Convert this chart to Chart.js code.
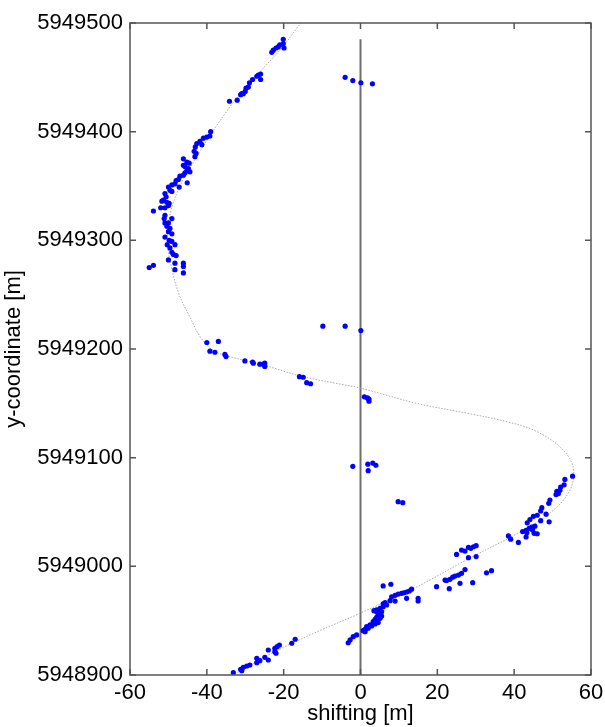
<!DOCTYPE html>
<html>
<head>
<meta charset="utf-8">
<script src="https://cdn.jsdelivr.net/npm/chart.js@4"></script>
<style>
  html, body { margin: 0; padding: 0; background: #fff; }
  #wrap { width: 605px; height: 727px; }
</style>
</head>
<body>
<div id="wrap"><canvas id="chart" width="605" height="727"></canvas></div>
<script>
// axis ticks
const xTicks = [-60, -40, -20, 0, 20, 40, 60];
const yTicks = [5948900, 5949000, 5949100, 5949200, 5949300, 5949400, 5949500];

const northBranch = [
  [-20.1, 5949485], [-20.1, 5949481], [-21.0, 5949480], [-19.9, 5949477], [-21.4, 5949478],
  [-22.0, 5949477], [-22.7, 5949475], [-23.1, 5949473], [-26.0, 5949453], [-26.6, 5949452],
  [-27.0, 5949451], [-26.0, 5949448], [-28.1, 5949448], [-28.9, 5949445], [-29.2, 5949441],
  [-29.8, 5949440], [-30.0, 5949437], [-30.5, 5949435], [-30.9, 5949435], [-31.2, 5949434],
  [-34.1, 5949428], [-32.1, 5949429], [-39.0, 5949400], [-39.2, 5949396], [-40.0, 5949395],
  [-40.9, 5949394], [-41.8, 5949391], [-42.6, 5949389], [-43.0, 5949386], [-41.3, 5949388]
];

const westBend = [
  [-43.3, 5949382], [-42.8, 5949380], [-43.1, 5949377], [-46.1, 5949375], [-45.2, 5949372],
  [-44.6, 5949371], [-46.1, 5949369], [-45.7, 5949368], [-44.8, 5949366], [-45.2, 5949364],
  [-44.4, 5949363], [-45.7, 5949362], [-46.1, 5949360], [-47.0, 5949359], [-47.4, 5949356],
  [-48.0, 5949355], [-48.3, 5949352], [-45.1, 5949353], [-49.1, 5949351], [-50.0, 5949349],
  [-47.2, 5949349], [-49.6, 5949346], [-49.1, 5949345], [-50.9, 5949343], [-50.6, 5949340],
  [-51.3, 5949337], [-51.7, 5949336], [-50.4, 5949335], [-49.8, 5949334], [-50.0, 5949332],
  [-52.0, 5949330], [-50.9, 5949330], [-53.9, 5949327], [-50.9, 5949323], [-51.1, 5949320],
  [-49.1, 5949320], [-50.9, 5949316], [-50.0, 5949316], [-50.4, 5949313], [-49.6, 5949311],
  [-50.0, 5949308], [-49.1, 5949306], [-50.9, 5949303], [-49.8, 5949300], [-49.1, 5949299],
  [-50.3, 5949296], [-48.3, 5949296], [-49.6, 5949293], [-49.1, 5949289], [-48.7, 5949287],
  [-48.0, 5949286], [-50.0, 5949282], [-48.3, 5949279], [-46.1, 5949279], [-46.1, 5949276],
  [-48.3, 5949273], [-46.1, 5949270], [-53.9, 5949277], [-55.0, 5949275]
];

const middleRun = [
  [-40.0, 5949206], [-37.0, 5949207], [-39.2, 5949198], [-37.9, 5949197], [-35.3, 5949195],
  [-35.0, 5949193], [-30.1, 5949189], [-28.1, 5949188], [-27.9, 5949187], [-26.2, 5949186],
  [-25.3, 5949186], [-24.9, 5949187], [-24.9, 5949184], [-15.9, 5949174.5], [-14.9, 5949174],
  [-14.0, 5949169], [-13.0, 5949168]
];

const nearAxis = [
  [-4.0, 5949450], [-2.0, 5949447], [0.1, 5949445], [3.1, 5949444],
  [-9.8, 5949221], [-4.0, 5949221], [0.1, 5949217],
  [1.0, 5949156], [1.8, 5949155], [2.2, 5949154], [2.2, 5949152],
  [-2.0, 5949092], [1.9, 5949094], [3.2, 5949095], [4.0, 5949093], [2.0, 5949088],
  [9.8, 5949059.5], [11.0, 5949058.6]
];

const eastBend = [
  [55.2, 5949083], [53.2, 5949080], [53.0, 5949075], [52.1, 5949073], [51.9, 5949070],
  [51.1, 5949069], [51.5, 5949067], [50.9, 5949066], [49.3, 5949061], [49.0, 5949058],
  [47.2, 5949054], [46.9, 5949051], [46.0, 5949047], [48.3, 5949048], [45.0, 5949046],
  [46.9, 5949042], [49.1, 5949041], [44.1, 5949043], [43.4, 5949040], [45.4, 5949037],
  [44.6, 5949036], [43.9, 5949035], [44.8, 5949033.5], [43.1, 5949033], [42.2, 5949032],
  [43.3, 5949031], [46.0, 5949030], [45.2, 5949030.4], [43.1, 5949027], [38.5, 5949028],
  [39.1, 5949025], [41.1, 5949022],
  [25.0, 5949011], [26.3, 5949015], [27.2, 5949014], [28.1, 5949017.5], [28.7, 5949016.6],
  [29.4, 5949018], [30.1, 5949019], [28.1, 5949008], [30.1, 5949009],
  [32.8, 5948994], [34.1, 5948996], [27.2, 5948997], [26.3, 5948993.6], [25.5, 5948992],
  [24.6, 5948991], [24.0, 5948990], [23.3, 5948988], [22.4, 5948987], [22.0, 5948987.4],
  [25.9, 5948984.4], [29.2, 5948985], [23.1, 5948979.4], [19.8, 5948981.3]
];

const southRun = [
  [5.9, 5948982], [7.9, 5948983.5], [13.3, 5948979], [12.7, 5948977.3], [12.0, 5948976.4],
  [11.3, 5948975.7], [10.7, 5948975.2], [9.8, 5948974.5], [9.0, 5948973.3], [8.1, 5948972],
  [12.0, 5948970.6], [9.0, 5948968], [7.7, 5948968.4], [6.4, 5948966.6], [5.9, 5948965.4],
  [15.0, 5948970.6], [15.0, 5948968.1],
  [6.8, 5948964.4], [5.9, 5948962.9], [5.1, 5948961.4], [4.2, 5948959.9], [5.5, 5948958.3],
  [5.1, 5948956.8], [4.6, 5948955.3], [5.5, 5948954.3], [4.2, 5948953.1], [5.1, 5948952.2],
  [3.8, 5948951.3], [4.2, 5948950], [3.3, 5948949.1], [4.6, 5948948.2], [3.8, 5948947],
  [2.5, 5948946.1], [2.9, 5948945.1], [1.6, 5948944.5], [2.0, 5948943], [1.2, 5948942.1],
  [0.7, 5948940.8], [1.2, 5948939.9], [-1.0, 5948936.9], [-1.9, 5948935.3], [-2.7, 5948932.3],
  [-3.2, 5948929.7], [4.2, 5948958.3], [3.5, 5948959.2],
  [-17.0, 5948932.9], [-17.9, 5948929.2], [-21.1, 5948927.6], [-21.7, 5948926.1], [-22.3, 5948924.6],
  [-24.0, 5948923], [-22.3, 5948921.5], [-22.0, 5948920], [-24.9, 5948916.3], [-24.0, 5948913.8],
  [-27.0, 5948915.4], [-26.2, 5948913.2], [-27.0, 5948911.3], [-28.8, 5948909.2], [-29.6, 5948908.3],
  [-30.5, 5948907.1], [-31.2, 5948905.3], [-30.9, 5948904], [-33.1, 5948902.1]
];

// smoothed trend (dotted)
const trendCurve = [
  [-11, 5949520], [-15.5, 5949500], [-21, 5949475], [-27.5, 5949450], [-33.5, 5949425],
  [-38.5, 5949400], [-43, 5949375], [-47, 5949350], [-49.5, 5949325], [-50.3, 5949300],
  [-49.2, 5949275], [-47.2, 5949250], [-44.5, 5949230], [-41.5, 5949210], [-38, 5949198],
  [-33, 5949192], [-25, 5949185], [-15.5, 5949175], [-5, 5949167.5], [0, 5949164],
  [14.6, 5949150], [27.6, 5949141], [37, 5949134], [45, 5949125.5], [51.9, 5949110],
  [55.3, 5949092], [54.5, 5949070], [49.3, 5949049], [40.7, 5949030], [27.6, 5949006],
  [14.6, 5948981], [0, 5948957], [-10.5, 5948941], [-22, 5948922], [-33.2, 5948900],
  [-36, 5948895]
];

// reference line at zero shifting
const zeroLine = [[0, 5949485], [0, 5948900]];

const toXY = arr => arr.map(p => ({ x: p[0], y: p[1] }));
const allPoints = [].concat(northBranch, westBend, middleRun, nearAxis, eastBend, southRun);

const FONT = { family: "'Liberation Sans', Arial, sans-serif", size: 22 };
const AXIS_COLOR = '#555';

// MATLAB style box with inward ticks
const boxPlugin = {
  id: 'boxTicks',
  afterDraw(chart) {
    const { ctx, chartArea: a, scales } = chart;
    const len = 6;
    ctx.save();
    ctx.strokeStyle = AXIS_COLOR;
    ctx.lineWidth = 1.5;
    ctx.strokeRect(a.left, a.top, a.right - a.left, a.bottom - a.top);
    ctx.beginPath();
    xTicks.forEach(v => {
      const px = scales.x.getPixelForValue(v);
      ctx.moveTo(px, a.bottom); ctx.lineTo(px, a.bottom - len);
      ctx.moveTo(px, a.top); ctx.lineTo(px, a.top + len);
    });
    yTicks.forEach(v => {
      const py = scales.y.getPixelForValue(v);
      ctx.moveTo(a.left, py); ctx.lineTo(a.left + len, py);
      ctx.moveTo(a.right, py); ctx.lineTo(a.right - len, py);
    });
    ctx.stroke();
    ctx.restore();
  }
};

new Chart(document.getElementById('chart'), {
  type: 'scatter',
  data: {
    datasets: [
      {
        label: 'points',
        data: toXY(allPoints),
        backgroundColor: '#0000ff',
        borderWidth: 0,
        pointRadius: 2.6,
        pointHoverRadius: 2.6
      },
      {
        label: 'trend',
        data: toXY(trendCurve),
        showLine: true,
        borderColor: '#a8a8a8',
        borderWidth: 1,
        borderDash: [1.5, 1.5],
        tension: 0.35,
        pointRadius: 0,
        fill: false
      },
      {
        label: 'zero',
        data: toXY(zeroLine),
        showLine: true,
        borderColor: '#6e6e6e',
        borderWidth: 2,
        pointRadius: 0,
        fill: false
      }
    ]
  },
  options: {
    responsive: false,
    animation: false,
    events: [],
    layout: { padding: { top: 23, right: 14, left: 0, bottom: 0 } },
    plugins: {
      legend: { display: false },
      tooltip: { enabled: false }
    },
    scales: {
      x: {
        type: 'linear',
        min: -60,
        max: 60,
        afterBuildTicks: s => { s.ticks = xTicks.map(v => ({ value: v })); },
        afterFit: s => { s.height = 52; s.paddingLeft = 0; s.paddingRight = 0; },
        grid: { display: false, drawTicks: false },
        border: { display: false },
        ticks: { font: FONT, color: '#000', padding: 5, maxRotation: 0, autoSkip: false,
                 callback: v => String(v) },
        title: { display: true, text: 'shifting [m]', font: FONT, color: '#000', padding: 0 }
      },
      y: {
        type: 'linear',
        min: 5948900,
        max: 5949500,
        afterBuildTicks: s => { s.ticks = yTicks.map(v => ({ value: v })); },
        afterFit: s => { s.width = 130; s.paddingTop = 0; s.paddingBottom = 0; },
        grid: { display: false, drawTicks: false },
        border: { display: false },
        ticks: { font: FONT, color: '#000', padding: 7, autoSkip: false,
                 callback: v => String(v) },
        title: { display: true, text: 'y-coordinate [m]', font: FONT, color: '#000', padding: 1 }
      }
    }
  },
  plugins: [boxPlugin]
});
</script>
</body>
</html>
